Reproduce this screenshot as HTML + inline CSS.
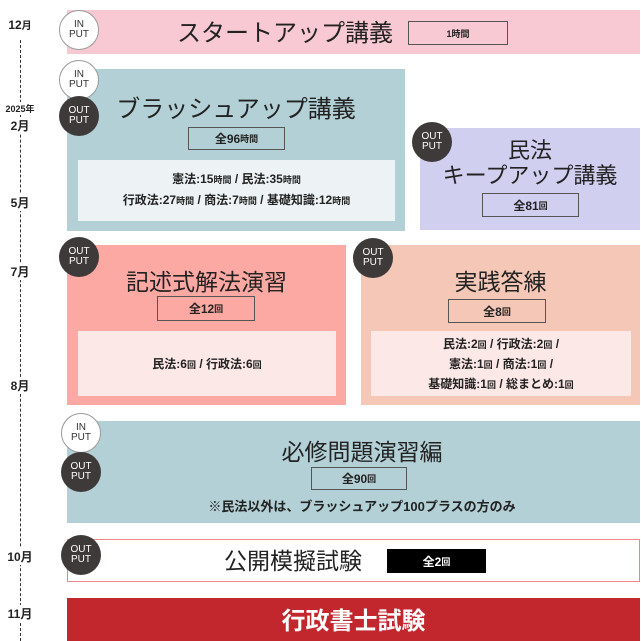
<!DOCTYPE html>
<html><head><meta charset="utf-8"><style>
body{margin:0;width:641px;height:641px;position:relative;background:#fff;font-family:"Liberation Sans","Noto Sans CJK JP",sans-serif;overflow:hidden;color:#222}
.a{position:absolute;box-sizing:border-box}
.c{position:absolute;width:40px;height:40px;border-radius:50%;box-sizing:border-box;display:flex;align-items:center;justify-content:center;text-align:center;font-size:10px;line-height:10px;}
.in{background:#fff;border:1px solid #999;color:#333}
.out{background:#3e3a39;color:#fff}
.t{position:absolute;text-align:center;white-space:nowrap}
.bx{position:absolute;box-sizing:border-box;border:1px solid #555;display:flex;align-items:center;justify-content:center;font-size:12px;font-weight:bold}
.bx small{font-size:9px}
.m{position:absolute;font-size:12px;font-weight:bold;width:40px;text-align:center;left:0}
</style></head><body>
<div class="a" style="left:20px;top:40px;height:601px;border-left:1px dashed #333"></div>
<div class="m" style="top:17px;background:#fff">12<small>月</small></div>
<div class="m" style="top:102px;font-size:9px;background:#fff">2025年</div>
<div class="m" style="top:117px;background:#fff">2月</div>
<div class="m" style="top:194px;background:#fff">5月</div>
<div class="m" style="top:263px;background:#fff">7月</div>
<div class="m" style="top:377px;background:#fff">8月</div>
<div class="m" style="top:548px;background:#fff">10月</div>
<div class="m" style="top:605px;background:#fff">11月</div>

<div class="a" style="left:67px;top:10px;width:573px;height:44px;background:#f8c9d3"></div>
<div class="t" style="left:150px;width:270px;top:13px;font-size:24px">スタートアップ講義</div>
<div class="bx" style="left:408px;top:21px;width:100px;height:24px"><small>1時間</small></div>
<div class="c in" style="left:59px;top:10px">IN<br>PUT</div>

<div class="a" style="left:67px;top:69px;width:338px;height:162px;background:#b3d0d6"></div>
<div class="t" style="left:67px;width:338px;top:89px;font-size:24px">ブラッシュアップ講義</div>
<div class="bx" style="left:188px;top:127px;width:97px;height:23px">全96<small>時間</small></div>
<div class="a" style="left:78px;top:160px;width:317px;height:61px;background:#edf3f5"></div>
<div class="t" style="left:78px;width:317px;top:169px;font-size:12px;font-weight:bold;line-height:20px">憲法:15<small style="font-size:9px">時間</small> / 民法:35<small style="font-size:9px">時間</small><br>行政法:27<small style="font-size:9px">時間</small> / 商法:7<small style="font-size:9px">時間</small> / 基礎知識:12<small style="font-size:9px">時間</small></div>
<div class="c in" style="left:59px;top:60px">IN<br>PUT</div>
<div class="c out" style="left:59px;top:96px">OUT<br>PUT</div>

<div class="a" style="left:420px;top:128px;width:220px;height:102px;background:#d1cff0"></div>
<div class="t" style="left:420px;width:220px;top:138px;font-size:22px;line-height:25px">民法<br>キープアップ講義</div>
<div class="bx" style="left:482px;top:193px;width:97px;height:24px">全81<small>回</small></div>
<div class="c out" style="left:412px;top:122px">OUT<br>PUT</div>

<div class="a" style="left:67px;top:245px;width:279px;height:160px;background:#fca9a4"></div>
<div class="t" style="left:67px;width:279px;top:263px;font-size:23px">記述式解法演習</div>
<div class="bx" style="left:157px;top:296px;width:98px;height:25px">全12<small>回</small></div>
<div class="a" style="left:78px;top:331px;width:258px;height:65px;background:#fde8e8"></div>
<div class="t" style="left:78px;width:258px;top:355px;font-size:12px;font-weight:bold">民法:6<small style="font-size:9px">回</small> / 行政法:6<small style="font-size:9px">回</small></div>
<div class="c out" style="left:59px;top:237px">OUT<br>PUT</div>

<div class="a" style="left:361px;top:245px;width:279px;height:160px;background:#f4c7b7"></div>
<div class="t" style="left:361px;width:279px;top:263px;font-size:23px">実践答練</div>
<div class="bx" style="left:448px;top:299px;width:98px;height:24px">全8<small>回</small></div>
<div class="a" style="left:371px;top:331px;width:260px;height:65px;background:#fde8e8"></div>
<div class="t" style="left:371px;width:260px;top:335px;font-size:12px;font-weight:bold;line-height:19px">民法:2<small style="font-size:9px">回</small> / 行政法:2<small style="font-size:9px">回</small> /<br>憲法:1<small style="font-size:9px">回</small> / 商法:1<small style="font-size:9px">回</small> /<br>基礎知識:1<small style="font-size:9px">回</small> / 総まとめ:1<small style="font-size:9px">回</small></div>
<div class="c out" style="left:353px;top:238px">OUT<br>PUT</div>

<div class="a" style="left:67px;top:421px;width:573px;height:102px;background:#b3d0d6"></div>
<div class="t" style="left:150px;width:424px;top:433px;font-size:23px">必修問題演習編</div>
<div class="bx" style="left:311px;top:467px;width:96px;height:23px">全90<small>回</small></div>
<div class="t" style="left:150px;width:424px;top:496px;font-size:13px;font-weight:bold">※民法以外は、ブラッシュアップ100プラスの方のみ</div>
<div class="c in" style="left:61px;top:413px">IN<br>PUT</div>
<div class="c out" style="left:61px;top:452px">OUT<br>PUT</div>

<div class="a" style="left:67px;top:539px;width:573px;height:43px;background:#fff;border:1px solid #e88"></div>
<div class="t" style="left:200px;width:186px;top:542px;font-size:23px">公開模擬試験</div>
<div class="bx" style="left:387px;top:549px;width:99px;height:24px;background:#000;color:#fff;border-color:#000">全2<small>回</small></div>
<div class="c out" style="left:61px;top:535px">OUT<br>PUT</div>

<div class="a" style="left:67px;top:598px;width:573px;height:43px;background:#c1272d"></div>
<div class="t" style="left:67px;width:573px;top:601px;font-size:24px;color:#fff;font-weight:bold">行政書士試験</div>
</body></html>
